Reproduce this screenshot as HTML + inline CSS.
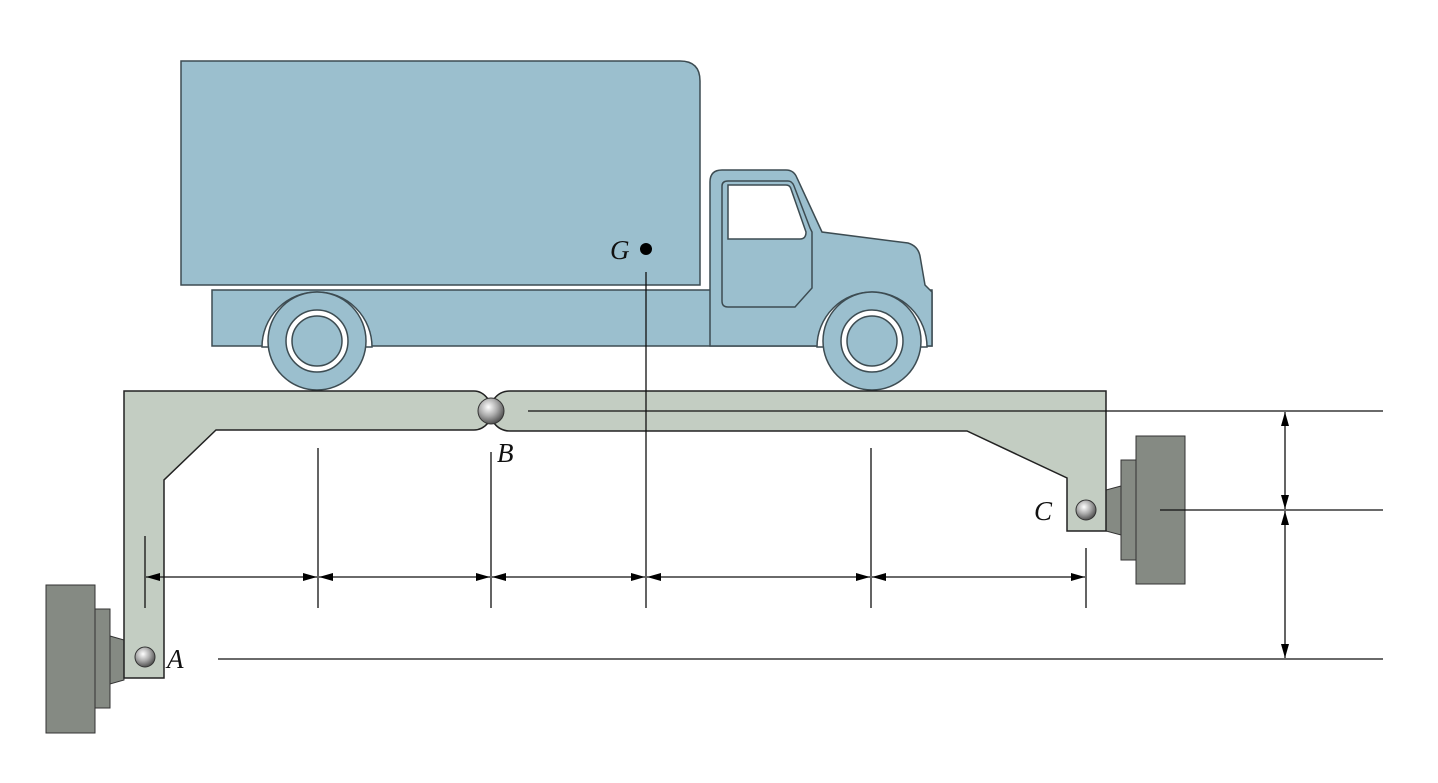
<!DOCTYPE html>
<html><head><meta charset="utf-8"><style>html,body{margin:0;padding:0;background:#fff}svg{display:block}</style></head>
<body>
<svg width="1438" height="783" viewBox="0 0 1438 783" xmlns="http://www.w3.org/2000/svg">
<defs>
<radialGradient id="ball" cx="0.4" cy="0.35" r="0.7"><stop offset="0" stop-color="#fff"/><stop offset="0.5" stop-color="#aaa"/><stop offset="1" stop-color="#444"/></radialGradient>
<marker id="ah" viewBox="0 0 14 10" refX="14" refY="5" markerWidth="14" markerHeight="10" markerUnits="userSpaceOnUse" orient="auto-start-reverse"><path d="M0,1 L14,5 L0,9 Z" fill="#000"/></marker>
</defs>
<g fill="#9bbfce" stroke="#3d4c52" stroke-width="1.5">
<rect x="212" y="290" width="720" height="56"/>
<path d="M710,346 L710,182 Q710,170 722,170 L786,170 Q794,170 797,178 L822,232 L908,243 Q918,246 920,256 L925,285 L932,292 L932,346 Z"/>
<path d="M181,61 L680,61 Q700,61 700,81 L700,285 L181,285 Z"/>
<path fill="none" d="M722,186 Q722,181 728,181 L788,181 Q792,181 794,186 L810,228 L812,232 L812,288 L795,307 L728,307 Q722,307 722,301 Z"/>
<path fill="#fff" d="M728,185 L786,185 Q790,185 791,189 L806,232 Q806,239 800,239 L728,239 Z"/>
<path fill="#fff" d="M262,347 A55,55 0 0 1 372,347 Z"/>
<path fill="#fff" d="M817,347 A55,55 0 0 1 927,347 Z"/>
<g><circle cx="317" cy="341" r="49"/><circle cx="317" cy="341" r="31" fill="#fff"/><circle cx="317" cy="341" r="25"/></g>
<g><circle cx="872" cy="341" r="49"/><circle cx="872" cy="341" r="31" fill="#fff"/><circle cx="872" cy="341" r="25"/></g>
</g>
<g fill="#858a83" stroke="#333" stroke-width="1">
<path d="M110,636 L124,640 L124,680 L110,684 Z"/>
<rect x="95" y="609" width="15" height="99"/>
<rect x="46" y="585" width="49" height="148"/>
</g>
<g fill="#858a83" stroke="#333" stroke-width="1">
<path d="M1121,486 L1106,490 L1106,531 L1121,535 Z"/>
<rect x="1121" y="460" width="15" height="100"/>
<rect x="1136" y="436" width="49" height="148"/>
</g>
<path fill="#c3cdc2" stroke="#222" stroke-width="1.5" d="M124,391 L474,391 Q482,391 488,399 L488,423 Q482,430 474,430 L216,430 L164,480 L164,678 L124,678 Z"/>
<path fill="#c3cdc2" stroke="#222" stroke-width="1.5" d="M1106,391 L510,391 Q500,391 494,399 L494,423 Q500,431 510,431 L967,431 L1067,478 L1067,531 L1106,531 Z"/>
<circle cx="491" cy="411" r="13" fill="url(#ball)" stroke="#333"/>
<circle cx="145" cy="657" r="10" fill="url(#ball)" stroke="#333"/>
<circle cx="1086" cy="510" r="10" fill="url(#ball)" stroke="#333"/>
<g stroke="#111" stroke-width="1.3" fill="none">
<line x1="145" y1="536" x2="145" y2="608"/>
<line x1="318" y1="448" x2="318" y2="608"/>
<line x1="491" y1="452" x2="491" y2="608"/>
<line x1="646" y1="272" x2="646" y2="608"/>
<line x1="871" y1="448" x2="871" y2="608"/>
<line x1="1086" y1="548" x2="1086" y2="608"/>
<line x1="146" y1="577" x2="317" y2="577" marker-start="url(#ah)" marker-end="url(#ah)"/>
<line x1="319" y1="577" x2="490" y2="577" marker-start="url(#ah)" marker-end="url(#ah)"/>
<line x1="492" y1="577" x2="645" y2="577" marker-start="url(#ah)" marker-end="url(#ah)"/>
<line x1="647" y1="577" x2="870" y2="577" marker-start="url(#ah)" marker-end="url(#ah)"/>
<line x1="872" y1="577" x2="1085" y2="577" marker-start="url(#ah)" marker-end="url(#ah)"/>
<line x1="528" y1="411" x2="1383" y2="411"/>
<line x1="1160" y1="510" x2="1383" y2="510"/>
<line x1="218" y1="659" x2="1383" y2="659"/>
<line x1="1285" y1="412" x2="1285" y2="509" marker-start="url(#ah)" marker-end="url(#ah)"/>
<line x1="1285" y1="511" x2="1285" y2="658" marker-start="url(#ah)" marker-end="url(#ah)"/>
</g>
<circle cx="646" cy="249" r="6" fill="#000"/>
<g font-family="Liberation Serif, serif" font-style="italic" font-size="27" fill="#111">
<text x="610" y="259">G</text>
<text x="497" y="462">B</text>
<text x="167" y="668">A</text>
<text x="1034" y="520">C</text>
</g>
</svg>
</body></html>
